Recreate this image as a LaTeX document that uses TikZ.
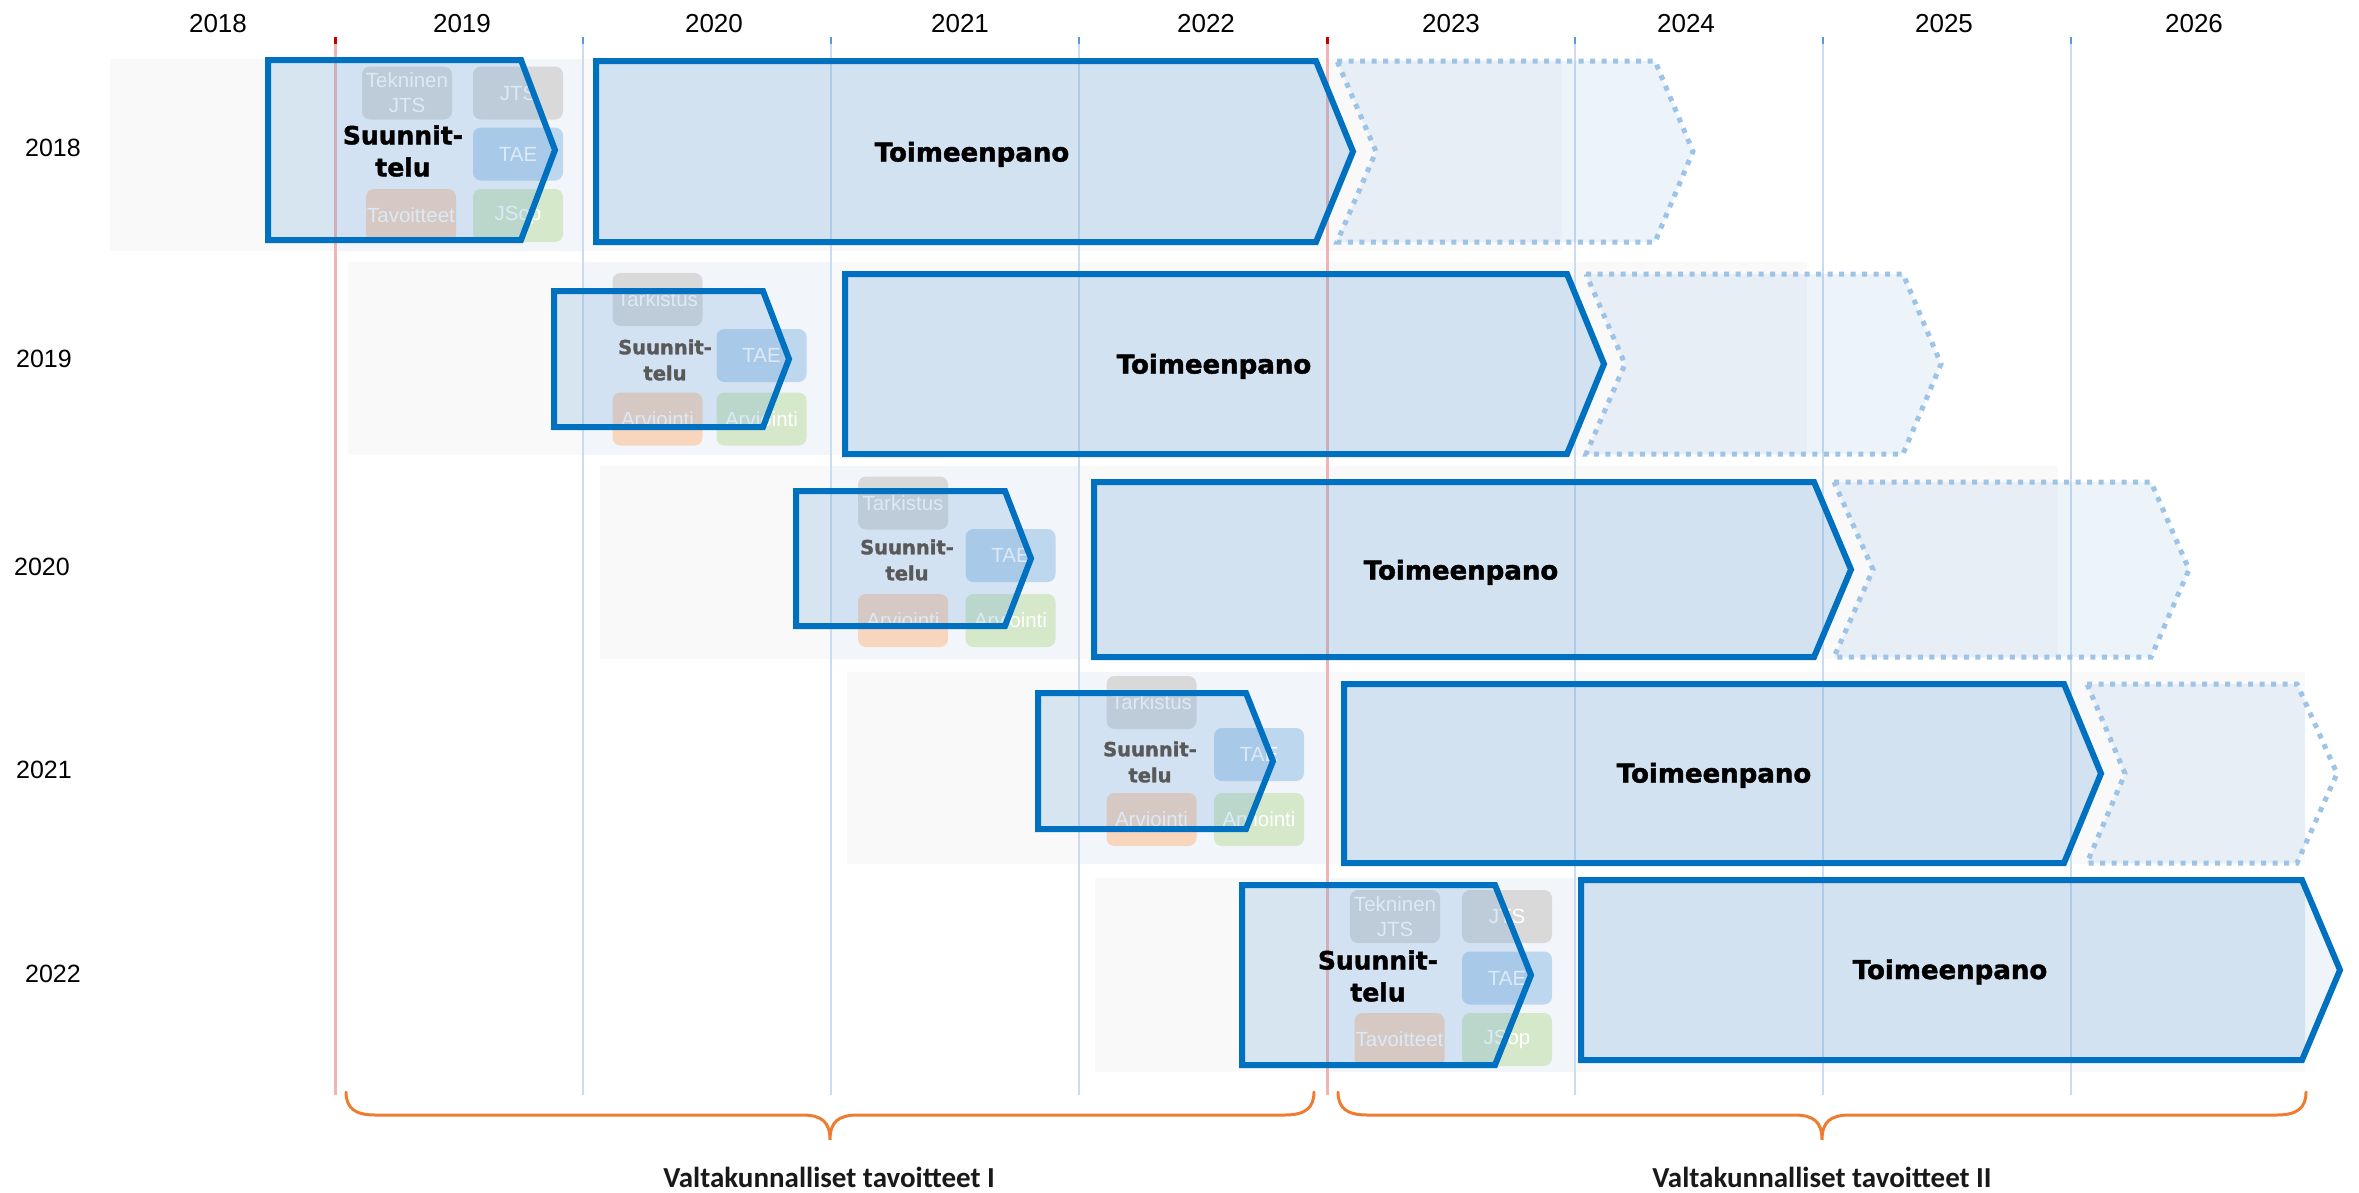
\documentclass[tikz,border=0pt]{standalone}
\usepackage{fontspec}
\setmainfont{Liberation Sans}
\newfontfamily\heavyfont{DejaVu Sans}[BoldFeatures={FakeBold=1.6}]
\newfontfamily\calfont{Carlito}
\definecolor{arrowblue}{HTML}{0070C0}
\definecolor{fillblue}{HTML}{5B9BD5}
\definecolor{dotblue}{HTML}{9DC3E6}
\definecolor{bandgray}{HTML}{F9F9F9}
\definecolor{panelblue}{HTML}{F2F6FB}
\definecolor{gridblue}{HTML}{C9DCF0}
\definecolor{gridtick}{HTML}{5B9BD5}
\definecolor{redline}{HTML}{F0B4B4}
\definecolor{redtick}{HTML}{C00000}
\definecolor{boxgray}{HTML}{D9D9D9}
\definecolor{boxblue}{HTML}{BDD7EE}
\definecolor{boxorange}{HTML}{F8D5BD}
\definecolor{boxgreen}{HTML}{D5E8CA}
\definecolor{braceorange}{HTML}{ED7D31}
\definecolor{suungray}{HTML}{595959}
% pentagon arrow: style, L, T, B, C, P
\newcommand\pentshape[6]{\path[#1] (#2,#3) -- (#5,#3) -- (#6,{(#3+#4)/2}) -- (#5,#4) -- (#2,#4) -- cycle;}
% chevron: style, L, T, B, C, P, N
\newcommand\chevshape[7]{\path[#1] (#2,#3) -- (#5,#3) -- (#6,{(#3+#4)/2}) -- (#5,#4) -- (#2,#4) -- (#7,{(#3+#4)/2}) -- cycle;}
\begin{document}
\begin{tikzpicture}[x=1pt,y=-1pt,
  yearlab/.style={font=\fontsize{26}{30}\selectfont, anchor=base, inner sep=0pt},
  rowlab/.style={font=\fontsize{25}{30}\selectfont, anchor=base, inner sep=0pt},
  subbox/.style={rounded corners=8pt, minimum width=90pt, minimum height=53pt, inner sep=0pt, text=white, font=\fontsize{20.5}{25}\selectfont, align=center},
  graybox/.style={subbox, fill=boxgray},
  bluebox/.style={subbox, fill=boxblue},
  orangebox/.style={subbox, fill=boxorange},
  greenbox/.style={subbox, fill=boxgreen},
  suunfill/.style={fill=fillblue, fill opacity=0.21},
  toimfill/.style={fill=fillblue, fill opacity=0.24},
  dotfill/.style={fill=fillblue, fill opacity=0.11},
  solidline/.style={draw=arrowblue, line width=6pt, line join=miter},
  dotline/.style={draw=dotblue, line width=5pt, dash pattern=on 5pt off 6.5pt},
  bigsuun/.style={font=\heavyfont\bfseries\fontsize{25}{32}\selectfont, align=center, inner sep=0pt},
  smallsuun/.style={font=\heavyfont\bfseries\fontsize{19.5}{26}\selectfont, align=center, inner sep=0pt, text=suungray},
  toimtext/.style={font=\heavyfont\bfseries\fontsize{26}{30}\selectfont, anchor=base, inner sep=0pt},
  gridline/.style={draw=gridblue, line width=1.5pt},
  gridmark/.style={draw=gridtick, line width=2pt},
  redgrid/.style={draw=redline, line width=3pt},
  redmark/.style={draw=redtick, line width=3pt},
  bracestyle/.style={draw=braceorange, line width=3pt, line cap=round},
  bracelabel/.style={font=\calfont\bfseries\fontsize{29}{34}\selectfont, anchor=base, inner sep=0pt, text=black!90}
]
\useasboundingbox (0,0) rectangle (2359,1192);
\fill[white] (0,0) rectangle (2359,1192);

% row bands and planning panels
\fill[bandgray] (110,59) rectangle (1562,251);
\fill[panelblue] (335,59) rectangle (583,251);
\fill[bandgray] (348,262) rectangle (1807,455);
\fill[panelblue] (583,262) rectangle (831,455);
\fill[bandgray] (600,466) rectangle (2058,659);
\fill[panelblue] (831,466) rectangle (1079,659);
\fill[bandgray] (847,672) rectangle (2305,864);
\fill[panelblue] (1079,672) rectangle (1327,864);
\fill[bandgray] (1095,878) rectangle (2305,1072);
\fill[panelblue] (1327,878) rectangle (1575,1072);

% grid lines
\foreach \gx in {583,831,1079,1575,1823,2071} {
  \path[gridline] (\gx,44) -- (\gx,1095);
  \path[gridmark] (\gx,37) -- (\gx,44);
}
\foreach \gx in {335,1327} {
  \path[redgrid] (\gx,44) -- (\gx,1095);
  \path[redmark] (\gx,37) -- (\gx,44);
}

% year labels
\node[yearlab] (y2018) at (218,32) {2018};
\node[yearlab] (y2019) at (462,32) {2019};
\node[yearlab] (y2020) at (714,32) {2020};
\node[yearlab] (y2021) at (960,32) {2021};
\node[yearlab] (y2022) at (1206,32) {2022};
\node[yearlab] (y2023) at (1451,32) {2023};
\node[yearlab] (y2024) at (1686,32) {2024};
\node[yearlab] (y2025) at (1944,32) {2025};
\node[yearlab] (y2026) at (2194,32) {2026};

\node[rowlab] (r2018) at (53,156) {2018};
\node[rowlab] (r2019) at (44,367) {2019};
\node[rowlab] (r2020) at (42,575) {2020};
\node[rowlab] (r2021) at (44,778) {2021};
\node[rowlab] (r2022) at (53,982) {2022};

% sub boxes
\node[graybox] (b1a) at (407,93) {Tekninen\\JTS};
\node[graybox] (b1b) at (518,93) {JTS};
\node[bluebox] (b1c) at (518,154) {TAE};
\node[orangebox] (b1d) at (411,215.5) {Tavoitteet};
\node[greenbox] (b1e) at (518,215.5) {JSop};

\node[graybox] (b2a) at (657.5,299.5) {Tarkistus};
\node[bluebox] (b2b) at (761.5,355.5) {TAE};
\node[orangebox] (b2c) at (657.5,419) {Arviointi};
\node[greenbox] (b2d) at (761.5,419) {Arviointi};

\node[graybox] (b3a) at (903,503) {Tarkistus};
\node[bluebox] (b3b) at (1010.5,555.5) {TAE};
\node[orangebox] (b3c) at (903,620.5) {Arviointi};
\node[greenbox] (b3d) at (1010.5,620.5) {Arviointi};

\node[graybox] (b4a) at (1151.5,702.5) {Tarkistus};
\node[bluebox] (b4b) at (1259,754.5) {TAE};
\node[orangebox] (b4c) at (1151.5,819.5) {Arviointi};
\node[greenbox] (b4d) at (1259,819.5) {Arviointi};

\node[graybox] (b5a) at (1395,916.5) {Tekninen\\JTS};
\node[graybox] (b5b) at (1507,916.5) {JTS};
\node[bluebox] (b5c) at (1507,978) {TAE};
\node[orangebox] (b5d) at (1399.5,1039.5) {Tavoitteet};
\node[greenbox] (b5e) at (1507,1039.5) {JSop};

% fills (clipped at slide edge)
\begin{scope}
\clip (0,0) rectangle (2305,1192);
\pentshape{suunfill}{268}{60}{240}{521}{555}
\pentshape{toimfill}{596}{61}{242}{1316}{1353}
\chevshape{dotfill}{1337}{61}{242}{1655}{1693}{1376}
\pentshape{suunfill}{554}{291}{427}{763}{789}
\pentshape{toimfill}{845}{274}{454}{1567}{1604}
\chevshape{dotfill}{1586}{274}{454}{1903}{1941}{1625}
\pentshape{suunfill}{796}{491}{626}{1005}{1031}
\pentshape{toimfill}{1094}{482}{657}{1814}{1851}
\chevshape{dotfill}{1834}{482}{657}{2151}{2189}{1873}
\pentshape{suunfill}{1038}{693}{829}{1246}{1273}
\pentshape{toimfill}{1344}{684}{863}{2064}{2101}
\chevshape{dotfill}{2087}{684}{863}{2297}{2337}{2125}
\pentshape{suunfill}{1242}{885}{1065}{1495}{1531}
\pentshape{toimfill}{1581}{880}{1060}{2302}{2340}
\end{scope}
\begin{scope}
\clip (2305,0) rectangle (2359,1192);
\pentshape{fill=fillblue, fill opacity=0.1}{1581}{880}{1060}{2302}{2340}
\end{scope}

% outlines
\pentshape{solidline}{268}{60}{240}{521}{555}
\pentshape{solidline}{596}{61}{242}{1316}{1353}
\chevshape{dotline}{1337}{61}{242}{1655}{1693}{1376}
\pentshape{solidline}{554}{291}{427}{763}{789}
\pentshape{solidline}{845}{274}{454}{1567}{1604}
\chevshape{dotline}{1586}{274}{454}{1903}{1941}{1625}
\pentshape{solidline}{796}{491}{626}{1005}{1031}
\pentshape{solidline}{1094}{482}{657}{1814}{1851}
\chevshape{dotline}{1834}{482}{657}{2151}{2189}{1873}
\pentshape{solidline}{1038}{693}{829}{1246}{1273}
\pentshape{solidline}{1344}{684}{863}{2064}{2101}
\chevshape{dotline}{2087}{684}{863}{2297}{2337}{2125}
\pentshape{solidline}{1242}{885}{1065}{1495}{1531}
\pentshape{solidline}{1581}{880}{1060}{2302}{2340}

% texts
\node[bigsuun] (s1) at (403,151) {Suunnit-\\telu};
\node[smallsuun] (s2) at (665,360) {Suunnit-\\telu};
\node[smallsuun] (s3) at (907,560) {Suunnit-\\telu};
\node[smallsuun] (s4) at (1150,762) {Suunnit-\\telu};
\node[bigsuun] (s5) at (1378,976) {Suunnit-\\telu};

\node[toimtext] (t1) at (972,161.5) {Toimeenpano};
\node[toimtext] (t2) at (1214,373.5) {Toimeenpano};
\node[toimtext] (t3) at (1461,579.5) {Toimeenpano};
\node[toimtext] (t4) at (1714,782.5) {Toimeenpano};
\node[toimtext] (t5) at (1950,979) {Toimeenpano};

% braces
\path[bracestyle] (346,1092) .. controls (346,1108) and (355,1115) .. (375,1115) -- (802,1115) .. controls (822,1115) and (830,1122) .. (830,1140) .. controls (830,1122) and (838,1115) .. (858,1115) -- (1285,1115) .. controls (1305,1115) and (1314,1108) .. (1314,1092);
\path[bracestyle] (1338,1092) .. controls (1338,1108) and (1347,1115) .. (1367,1115) -- (1794,1115) .. controls (1814,1115) and (1822,1122) .. (1822,1140) .. controls (1822,1122) and (1830,1115) .. (1850,1115) -- (2277,1115) .. controls (2297,1115) and (2306,1108) .. (2306,1092);

\node[bracelabel] (v1) at (829,1187) {Valtakunnalliset tavoitteet I};
\node[bracelabel] (v2) at (1822,1187) {Valtakunnalliset tavoitteet II};
\end{tikzpicture}
\end{document}
